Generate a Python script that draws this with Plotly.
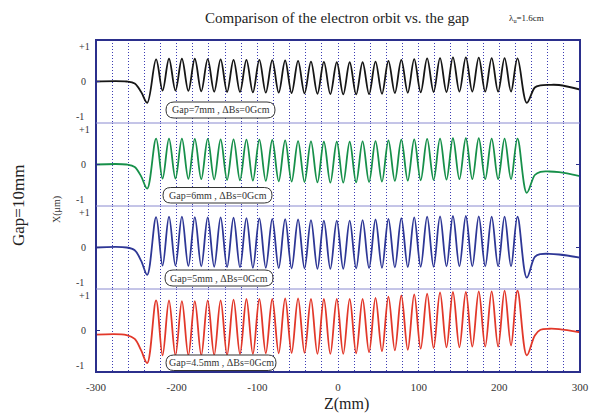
import plotly.graph_objects as go
from plotly.subplots import make_subplots

# ---- data -------------------------------------------------------------
LAMBDA_U = 16.0          # undulator period (mm)
FIRST_PEAK_Z = -225.5    # z of the first full oscillation peak (mm)

z_ticks = [-300, -200, -100, 0, 100, 200, 300]
z_tick_labels = ["-300", "-200", "-100", "0", "100", "200", "300"]

gap_labels = ["Gap=7mm , ΔBs=0Gcm", "Gap=6mm , ΔBs=0Gcm",
              "Gap=5mm , ΔBs=0Gcm", "Gap=4.5mm , ΔBs=0Gcm"]
colors = ["#161616", "#17904a", "#2e3796", "#e2382a"]

# entrance section (flat, then the first dip)
entry_z = [-300, -262, -252, -244, -236.5]
black_entry = [0.0, 0.0, -0.06, -0.30, -0.61]
green_entry = [0.0, 0.0, -0.07, -0.34, -0.69]
blue_entry = [0.0, 0.0, -0.08, -0.38, -0.78]
red_entry = [-0.12, -0.13, -0.24, -0.57, -0.93]

# oscillation maxima (29) and minima (28)
black_peaks = [0.63, 0.65, 0.65, 0.65, 0.64, 0.63, 0.62, 0.62, 0.62, 0.61, 0.60, 0.59, 0.57, 0.56, 0.55,
               0.55, 0.55, 0.57, 0.59, 0.62, 0.64, 0.66, 0.67, 0.69, 0.69, 0.68, 0.67, 0.67, 0.66]
black_troughs = [-0.26, -0.26, -0.27, -0.28, -0.29, -0.30, -0.30, -0.31, -0.32, -0.32, -0.33, -0.34, -0.35, -0.36,
                 -0.37, -0.37, -0.36, -0.35, -0.33, -0.32, -0.31, -0.30, -0.30, -0.29, -0.29, -0.29, -0.29, -0.29]

green_peaks = [0.74, 0.74, 0.74, 0.73, 0.73, 0.72, 0.72, 0.71, 0.71, 0.70, 0.69, 0.67, 0.66, 0.65, 0.65,
               0.65, 0.66, 0.67, 0.69, 0.71, 0.72, 0.73, 0.74, 0.75, 0.75, 0.75, 0.74, 0.74, 0.74]
green_troughs = [-0.40, -0.40, -0.41, -0.42, -0.43, -0.44, -0.45, -0.46, -0.47, -0.48, -0.49, -0.50, -0.51, -0.52,
                 -0.52, -0.51, -0.50, -0.49, -0.47, -0.46, -0.45, -0.44, -0.43, -0.42, -0.42, -0.42, -0.42, -0.42]

blue_peaks = [0.87, 0.88, 0.88, 0.87, 0.86, 0.86, 0.85, 0.84, 0.83, 0.82, 0.81, 0.80, 0.78, 0.77, 0.77,
              0.77, 0.78, 0.80, 0.82, 0.84, 0.86, 0.88, 0.89, 0.90, 0.90, 0.89, 0.88, 0.88, 0.88]
blue_troughs = [-0.52, -0.52, -0.53, -0.54, -0.55, -0.56, -0.57, -0.58, -0.58, -0.59, -0.60, -0.60, -0.61, -0.61,
                -0.61, -0.60, -0.59, -0.58, -0.57, -0.56, -0.55, -0.55, -0.54, -0.54, -0.54, -0.54, -0.54, -0.54]

red_peaks = [0.86, 0.86, 0.84, 0.84, 0.86, 0.86, 0.88, 0.90, 0.90, 0.90, 0.92, 0.92, 0.90, 0.90, 0.90,
             0.90, 0.90, 0.93, 0.97, 1.00, 1.03, 1.05, 1.09, 1.10, 1.10, 1.12, 1.12, 1.14, 1.14]
red_troughs = [-0.71, -0.71, -0.71, -0.71, -0.70, -0.70, -0.67, -0.67, -0.65, -0.65, -0.64, -0.64, -0.67, -0.67,
               -0.67, -0.65, -0.62, -0.59, -0.57, -0.55, -0.52, -0.50, -0.48, -0.48, -0.46, -0.46, -0.46, -0.43]

# exit section (last dip, then the drift)
exit_z = [234, 244, 251, 262, 274, 300]
black_exit = [-0.61, -0.17, -0.11, -0.095, -0.10, -0.23]
green_exit = [-0.81, -0.30, -0.21, -0.20, -0.22, -0.33]
blue_exit = [-0.86, -0.27, -0.19, -0.18, -0.20, -0.29]
red_exit = [-0.71, -0.14, 0.02, 0.05, 0.04, -0.05]

series = [
    (black_entry, black_peaks, black_troughs, black_exit),
    (green_entry, green_peaks, green_troughs, green_exit),
    (blue_entry, blue_peaks, blue_troughs, blue_exit),
    (red_entry, red_peaks, red_troughs, red_exit),
]

# ---- geometry helpers ---------------------------------------------------
W, H = 589, 414
L, R, T, B = 96, 9, 40, 42
PW, PH = W - L - R, H - T - B
YR = 1.186
FRAME = "#2b2f8c"
SERIF = "Liberation Serif, Times New Roman, serif"


def px(x):
    return (x - L) / PW


def py(y):
    return (H - B - y) / PH


def orbit(entry, peaks, troughs, exit_):
    z, v = list(entry_z), list(entry)
    for k, p in enumerate(peaks):
        z.append(FIRST_PEAK_Z + k * LAMBDA_U)
        v.append(p)
        if k < len(troughs):
            z.append(FIRST_PEAK_Z + (k + 0.5) * LAMBDA_U)
            v.append(troughs[k])
    z += exit_z
    v += exit_
    return z, v


fig = make_subplots(rows=4, cols=1, shared_xaxes=True, vertical_spacing=0)

for i, (entry, peaks, troughs, exit_) in enumerate(series):
    z, v = orbit(entry, peaks, troughs, exit_)
    fig.add_trace(go.Scatter(x=z, y=v, mode="lines",
                             line=dict(color=colors[i], width=1.8, shape="spline", smoothing=1.0),
                             showlegend=False, hoverinfo="skip"),
                  row=i + 1, col=1)

grid_color = "#3c3cb4"
for i in range(4):
    fig.update_xaxes(range=[-300, 300], tickmode="array", tickvals=z_ticks, ticktext=z_tick_labels,
                     automargin=False,
                     showgrid=True, gridcolor=grid_color, gridwidth=1, griddash="1px,2px",
                     minor=dict(tickmode="linear", dtick=20, tick0=-300, showgrid=True,
                                gridcolor=grid_color, gridwidth=1, griddash="1px,2px"),
                     zeroline=False, showline=False, ticks="",
                     showticklabels=(i == 3), ticklabeloverflow="allow",
                     tickfont=dict(family=SERIF, size=11, color="#333333"),
                     ticklabelstandoff=7,
                     row=i + 1, col=1)
    fig.update_yaxes(range=[-YR, YR], tickvals=[0], ticks="inside", ticklen=4, automargin=False,
                     tickcolor=FRAME, tickwidth=1, mirror="ticks",
                     showticklabels=False, showgrid=False, zeroline=False, showline=False,
                     row=i + 1, col=1)

shapes = [dict(type="rect", xref="paper", yref="paper", x0=0, x1=1, y0=0, y1=1,
               line=dict(color=FRAME, width=2), layer="above")]
for s in (0.25, 0.5, 0.75):
    shapes.append(dict(type="line", xref="paper", yref="paper", x0=0, x1=1, y0=s, y1=s,
                       line=dict(color="#8a8ad0", width=1), layer="above"))


def note(x, y, text, size, color="#222222", angle=0):
    return dict(x=px(x), y=py(y), xref="paper", yref="paper", text=text, showarrow=False,
                xanchor="center", yanchor="middle", textangle=angle,
                font=dict(family=SERIF, size=size, color=color))


annotations = []
# y tick labels for each panel
for i in range(4):
    y0 = T + PH * (i + 0.5) / 4
    for val, txt, xc in ((1, "+1", 84), (0, "0", 83), (-1, "-1", 80)):
        annotations.append(note(xc, y0 - val * 35, txt, 10, "#333333"))

# rounded label boxes
boxes = [(166, 275, 102, 118), (163, 272, 187.5, 203), (165, 273, 270, 286), (166, 276, 355, 370.5)]
for (x0, x1, y0, y1), label in zip(boxes, gap_labels):
    r = (y1 - y0) / 2
    pts = (f"M {px(x0 + r)} {py(y0)} L {px(x1 - r)} {py(y0)} "
           f"Q {px(x1)} {py(y0)} {px(x1)} {py(y0 + r)} "
           f"Q {px(x1)} {py(y1)} {px(x1 - r)} {py(y1)} "
           f"L {px(x0 + r)} {py(y1)} "
           f"Q {px(x0)} {py(y1)} {px(x0)} {py(y1 - r)} "
           f"Q {px(x0)} {py(y0)} {px(x0 + r)} {py(y0)} Z")
    shapes.append(dict(type="path", xref="paper", yref="paper", path=pts,
                       fillcolor="white", line=dict(color="#333333", width=1), layer="above"))
    annotations.append(note((x0 + x1) / 2, (y0 + y1) / 2, label, 10, "#333333"))

annotations += [
    note(337, 18, "Comparison of the electron orbit vs. the gap", 15),
    note(526, 18, "λ<sub>u</sub>=1.6cm", 9),
    note(18, 206, "Gap=10mm", 17, angle=-90),
    note(57, 210, "X(μm)", 10, "#333333", angle=-90),
    note(346, 404, "Z(mm)", 16),
]

fig.update_layout(width=W, height=H, margin=dict(l=L, r=R, t=T, b=B, autoexpand=False),
                  paper_bgcolor="white", plot_bgcolor="white",
                  shapes=shapes, annotations=annotations, showlegend=False)

fig.write_html("out.html")
